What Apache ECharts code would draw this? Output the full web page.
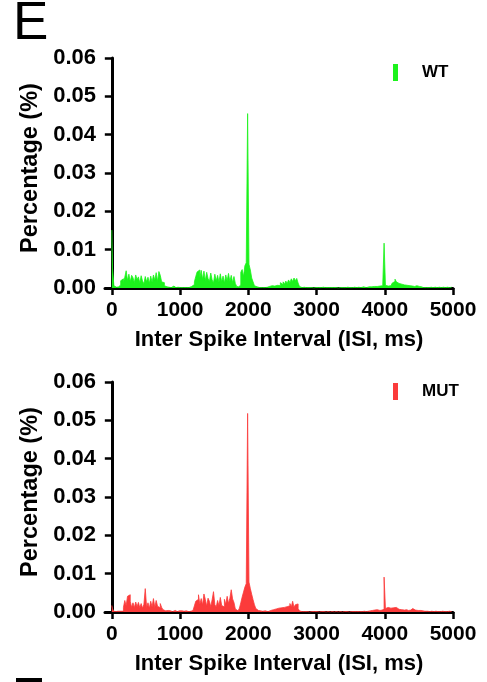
<!DOCTYPE html>
<html>
<head>
<meta charset="utf-8">
<script src="https://cdn.jsdelivr.net/npm/echarts@6/dist/echarts.min.js"></script>
<style>
html,body{margin:0;padding:0;background:#fff;}
#chart{width:487px;height:682px;}
</style>
</head>
<body>
<div id="chart"></div>
<script>
// Histogram bins: 20 ms wide, centred at 0, 20, 40, ... 4980 ms
var binStart = 0;
var binWidth = 20;
var xTicks = [0, 1000, 2000, 3000, 4000, 5000];
var seriesNames = ['WT', 'MUT'];

var wtValues = [
  0.0151,0.0052,0.0006,0.0002,0.0002,0.0003,0.0008,0.0019,0.0024,0.0014,
  0.0028,0.0045,0.0019,0.0036,0.0016,0.0033,0.0027,0.0014,0.0034,0.0022,
  0.0029,0.0013,0.0032,0.0018,0.0011,0.0030,0.0016,0.0028,0.0012,0.0031,
  0.0015,0.0034,0.0020,0.0040,0.0017,0.0043,0.0033,0.0016,0.0014,0.0006,
  0.0003,0.0001,0.0002,0.0001,0.0003,0.0005,0.0002,0.0001,0.0002,0.0004,
  0.0001,0.0002,0.0001,0.0003,0.0001,0.0002,0.0001,0.0002,0.0004,0.0006,
  0.0009,0.0016,0.0030,0.0042,0.0047,0.0026,0.0046,0.0023,0.0044,0.0019,
  0.0041,0.0025,0.0017,0.0039,0.0021,0.0014,0.0036,0.0018,0.0033,0.0015,
  0.0037,0.0016,0.0031,0.0013,0.0034,0.0019,0.0038,0.0017,0.0033,0.0014,
  0.0030,0.0012,0.0004,0.0003,0.0008,0.0041,0.0048,0.0030,0.0058,0.0066,
  0.0455,0.0062,0.0047,0.0026,0.0016,0.0006,0.0003,0.0002,0.0001,0.0002,
  0.0001,0.0002,0.0001,0.0003,0.0002,0.0004,0.0003,0.0006,0.0008,0.0005,
  0.0010,0.0007,0.0012,0.0006,0.0014,0.0009,0.0016,0.0010,0.0018,0.0012,
  0.0021,0.0014,0.0024,0.0017,0.0026,0.0019,0.0025,0.0013,0.0004,0.0001,
  0.0001,0.0002,0.0001,0.0000,0.0001,0.0002,0.0001,0.0001,0.0000,0.0001,
  0.0002,0.0001,0.0000,0.0001,0.0001,0.0002,0.0001,0.0000,0.0001,0.0001,
  0.0001,0.0000,0.0001,0.0002,0.0001,0.0001,0.0000,0.0001,0.0002,0.0001,
  0.0000,0.0001,0.0001,0.0002,0.0001,0.0000,0.0001,0.0001,0.0002,0.0001,
  0.0001,0.0002,0.0001,0.0001,0.0003,0.0002,0.0001,0.0002,0.0003,0.0002,
  0.0003,0.0002,0.0004,0.0003,0.0004,0.0003,0.0005,0.0004,0.0006,0.0008,
  0.0117,0.0007,0.0005,0.0008,0.0006,0.0010,0.0013,0.0017,0.0023,0.0016,
  0.0012,0.0008,0.0010,0.0006,0.0008,0.0005,0.0007,0.0004,0.0006,0.0003,
  0.0005,0.0003,0.0004,0.0006,0.0009,0.0004,0.0002,0.0003,0.0001,0.0002,
  0.0001,0.0002,0.0001,0.0001,0.0002,0.0001,0.0001,0.0002,0.0001,0.0001,
  0.0002,0.0001,0.0001,0.0002,0.0001,0.0001,0.0002,0.0001,0.0001,0.0002
];

var mutValues = [
  0.0017,0.0008,0.0002,0.0001,0.0002,0.0001,0.0002,0.0003,0.0002,0.0012,
  0.0030,0.0016,0.0041,0.0045,0.0028,0.0012,0.0024,0.0011,0.0026,0.0014,
  0.0025,0.0011,0.0022,0.0010,0.0020,0.0061,0.0012,0.0024,0.0010,0.0028,
  0.0013,0.0035,0.0012,0.0030,0.0015,0.0011,0.0022,0.0012,0.0006,0.0003,
  0.0002,0.0004,0.0002,0.0003,0.0001,0.0002,0.0004,0.0002,0.0001,0.0003,
  0.0002,0.0003,0.0001,0.0002,0.0003,0.0002,0.0001,0.0003,0.0002,0.0004,
  0.0008,0.0016,0.0028,0.0033,0.0045,0.0020,0.0035,0.0018,0.0047,0.0033,
  0.0015,0.0036,0.0028,0.0014,0.0032,0.0053,0.0019,0.0013,0.0030,0.0016,
  0.0038,0.0017,0.0013,0.0033,0.0020,0.0041,0.0022,0.0036,0.0058,0.0034,
  0.0025,0.0008,0.0003,0.0004,0.0010,0.0024,0.0039,0.0052,0.0065,0.0074,
  0.0518,0.0078,0.0061,0.0046,0.0032,0.0019,0.0009,0.0004,0.0002,0.0003,
  0.0002,0.0001,0.0003,0.0002,0.0001,0.0002,0.0004,0.0003,0.0006,0.0005,
  0.0008,0.0006,0.0010,0.0008,0.0011,0.0009,0.0012,0.0008,0.0014,0.0010,
  0.0016,0.0022,0.0013,0.0028,0.0012,0.0019,0.0021,0.0009,0.0003,0.0001,
  0.0001,0.0001,0.0000,0.0001,0.0001,0.0000,0.0001,0.0001,0.0001,0.0000,
  0.0001,0.0001,0.0000,0.0001,0.0000,0.0001,0.0001,0.0000,0.0001,0.0001,
  0.0000,0.0001,0.0001,0.0000,0.0001,0.0001,0.0000,0.0001,0.0001,0.0000,
  0.0001,0.0000,0.0001,0.0001,0.0000,0.0001,0.0001,0.0001,0.0000,0.0001,
  0.0001,0.0001,0.0002,0.0001,0.0001,0.0002,0.0001,0.0002,0.0002,0.0003,
  0.0003,0.0004,0.0005,0.0004,0.0006,0.0005,0.0004,0.0006,0.0005,0.0007,
  0.0091,0.0009,0.0012,0.0016,0.0010,0.0014,0.0011,0.0008,0.0012,0.0009,
  0.0007,0.0010,0.0006,0.0008,0.0005,0.0007,0.0006,0.0004,0.0006,0.0005,
  0.0009,0.0007,0.0005,0.0006,0.0004,0.0003,0.0004,0.0002,0.0003,0.0002,
  0.0001,0.0002,0.0001,0.0001,0.0002,0.0001,0.0001,0.0001,0.0002,0.0001,
  0.0001,0.0001,0.0002,0.0001,0.0001,0.0001,0.0001,0.0002,0.0001,0.0001
];

var colors = { WT: '#1cf21c', MUT: '#fb3b3b' };
var FONT = 'Liberation Sans, Arial, Helvetica, sans-serif';

function toPairs(values) {
  var out = [];
  for (var i = 0; i < values.length; i++) {
    out.push([binStart + i * binWidth, values[i]]);
  }
  return out;
}

function makeX(gridIndex) {
  return {
    type: 'value', gridIndex: gridIndex, min: -100, max: 5000,
    axisLine: { show: true, onZero: false, lineStyle: { color: '#000', width: 3 } },
    axisTick: { show: true, customValues: xTicks, length: 7, lineStyle: { color: '#000', width: 2.5 } },
    axisLabel: { customValues: xTicks, fontSize: 21, fontWeight: 'bold', color: '#000', fontFamily: FONT, margin: 12,
      formatter: function (v) { return String(v); } },
    splitLine: { show: false },
    name: 'Inter Spike Interval (ISI, ms)', nameLocation: 'middle', nameGap: 41,
    nameTextStyle: { fontSize: 22, fontWeight: 'bold', color: '#000', fontFamily: FONT }
  };
}
function makeY(gridIndex) {
  return {
    type: 'value', gridIndex: gridIndex, min: 0, max: 0.06, interval: 0.01,
    axisLine: { show: true, lineStyle: { color: '#000', width: 3 } },
    axisTick: { show: true, length: 7, lineStyle: { color: '#000', width: 2.5 } },
    axisLabel: { fontSize: 22, fontWeight: 'bold', color: '#000', fontFamily: FONT, margin: 9,
      formatter: function (v) { return v.toFixed(2); } },
    splitLine: { show: false },
    name: 'Percentage (%)', nameLocation: 'middle', nameGap: 61, nameRotate: 90,
    nameTextStyle: { fontSize: 23.5, fontWeight: 'bold', color: '#000', fontFamily: FONT, padding: [0, 0, 0, 10] }
  };
}
function makeSeries(name, values, idx) {
  return {
    name: name, type: 'line', step: 'middle', symbol: 'none',
    xAxisIndex: idx, yAxisIndex: idx,
    data: toPairs(values),
    itemStyle: { color: colors[name] },
    lineStyle: { color: colors[name], width: 0.8 },
    areaStyle: { color: colors[name], opacity: 1 },
    animation: false, z: 1
  };
}
function makeLegend(name, top) {
  return {
    data: [name], left: 388, top: top, icon: 'rect', itemWidth: 5, itemHeight: 17,
    textStyle: { fontSize: 17, fontWeight: 'bold', color: '#000', fontFamily: FONT, padding: [0, 0, 0, 19] },
    selectedMode: false
  };
}

var chart = echarts.init(document.getElementById('chart'), null, { renderer: 'canvas' });
chart.setOption({
  animation: false,
  backgroundColor: '#fff',
  grid: [
    { left: 105, right: 34, top: 58, height: 230 },
    { left: 105, right: 34, top: 382, height: 230 }
  ],
  xAxis: [makeX(0), makeX(1)],
  yAxis: [makeY(0), makeY(1)],
  legend: [makeLegend('WT', 59), makeLegend('MUT', 378)],
  series: [makeSeries('WT', wtValues, 0), makeSeries('MUT', mutValues, 1)],
  graphic: [
    { type: 'text', left: 13, top: -2, style: { text: 'E', fontSize: 53, fontFamily: FONT, fill: '#000' } },
    { type: 'rect', shape: { x: 16, y: 678, width: 26, height: 4 }, style: { fill: '#000' } }
  ]
});
</script>
</body>
</html>
